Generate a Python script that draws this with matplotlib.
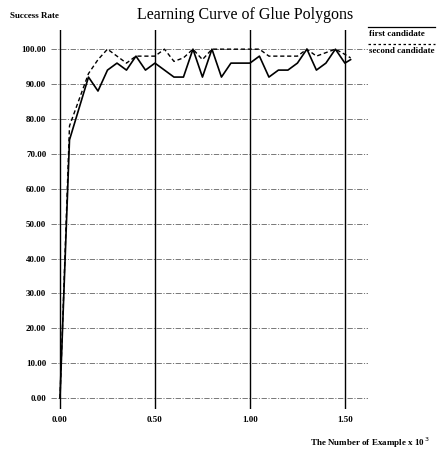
import matplotlib.pyplot as plt
from matplotlib.lines import Line2D

# (x in 10^3 examples, y in percent)
first_x = [0.0, 0.05, 0.15, 0.2, 0.25, 0.3, 0.35, 0.4, 0.45, 0.5, 0.6, 0.65,
           0.7, 0.75, 0.8, 0.85, 0.9, 0.95, 1.0, 1.05, 1.1, 1.15, 1.2, 1.25,
           1.3, 1.35, 1.4, 1.45, 1.5, 1.53]
first_y = [0, 74, 92, 88, 94, 96, 94, 98, 94, 96, 92, 92,
           100, 92, 100, 92, 96, 96, 96, 98, 92, 94, 94, 96,
           100, 94, 96, 100, 96, 97]

second_x = [0.0, 0.05, 0.15, 0.2, 0.25, 0.3, 0.35, 0.4, 0.45, 0.5, 0.55, 0.6,
            0.65, 0.7, 0.75, 0.8, 0.85, 0.9, 0.95, 1.0, 1.05, 1.1, 1.15, 1.2,
            1.25, 1.3, 1.35, 1.4, 1.45, 1.5, 1.53]
second_y = [0, 78, 93, 97, 100, 98, 96, 98, 98, 98, 100, 96.5,
            97.5, 100, 97, 100, 100, 100, 100, 100, 100, 98, 98, 98,
            98, 100, 98, 99, 100, 98.5, 97.5]

xticks = [0.0, 0.5, 1.0, 1.5]
yticks = list(range(0, 101, 10))

serif = ['Liberation Serif', 'DejaVu Serif']

fig = plt.figure(figsize=(4.43, 4.54), dpi=100)
ax = fig.add_axes([0.114, 0.100, 0.716, 0.834])
ax.set_xlim(-0.05, 1.62)
ax.set_ylim(-3, 105.5)
for s in ax.spines.values():
    s.set_visible(False)

# grid: dash-dot horizontals, solid verticals
for yv in yticks:
    ax.axhline(yv, color='#555555', lw=0.55, ls=(0, (7, 2, 1.5, 2)), zorder=1)
for xv in xticks:
    ax.axvline(xv, color='black', lw=1.0, zorder=2)

ax.plot(first_x, first_y, color='black', lw=1.2, zorder=3)
ax.plot(second_x, second_y, color='black', lw=1.0, ls=(0, (3, 2)), zorder=3)

ax.set_xticks(xticks)
ax.set_xticklabels(['%.2f' % v for v in xticks])
ax.set_yticks(yticks)
ax.set_yticklabels(['%.2f' % v for v in yticks])
ax.tick_params(length=0, labelsize=6.5, pad=3)
ax.tick_params(axis='x', pad=5)
for lab in ax.get_xticklabels() + ax.get_yticklabels():
    lab.set_family(serif)
    lab.set_fontweight('bold')

fig.text(0.553, 0.967, 'Learning Curve of Glue Polygons', ha='center', va='center',
         family=serif, fontsize=11.5)
fig.text(0.022, 0.965, 'Success Rate', ha='left', va='center',
         family=serif, fontsize=6.5, fontweight='bold')
fig.text(0.97, 0.025, r'The Number of Example x 10$^{\,3}$', ha='right', va='center',
         family=serif, fontsize=6.5, fontweight='bold')

# legend: sample line sits above each label
fig.add_artist(Line2D([0.83, 0.982], [0.94, 0.94], color='black', lw=0.9))
fig.text(0.832, 0.925, 'first candidate', ha='left', va='center',
         family=serif, fontsize=6.5, fontweight='bold')
fig.add_artist(Line2D([0.83, 0.982], [0.902, 0.902], color='black', lw=0.9,
                      ls=(0, (2, 2))))
fig.text(0.832, 0.888, 'second candidate', ha='left', va='center',
         family=serif, fontsize=6.5, fontweight='bold')

fig.savefig('out.png', dpi=100)
